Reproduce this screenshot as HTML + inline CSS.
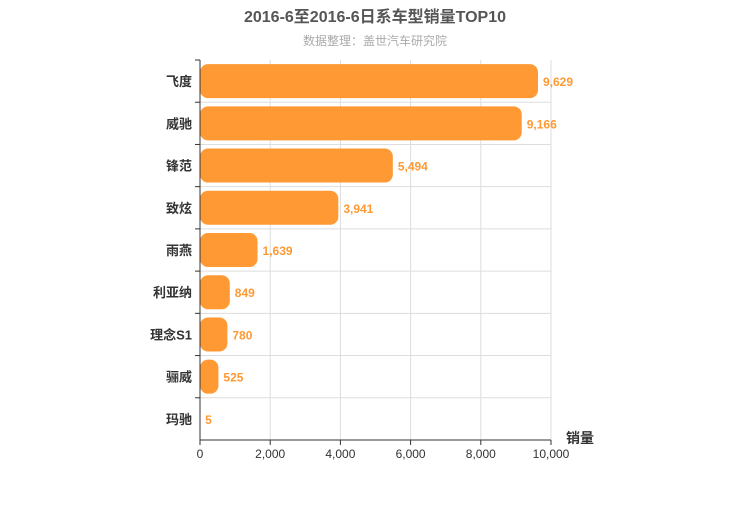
<!DOCTYPE html>
<html><head><meta charset="utf-8"><style>
body{margin:0;background:#fff;}
svg text{font-family:"Liberation Sans","Noto Sans CJK SC",sans-serif;}
</style></head><body>
<svg id="c" width="750" height="500">
<text x="375" y="22" text-anchor="middle" font-size="16" font-weight="bold" fill="#555">2016-6至2016-6日系车型销量TOP10</text>
<text x="375" y="45" text-anchor="middle" font-size="12" fill="#aaa">数据整理：盖世汽车研究院</text>
<text x="580" y="443" text-anchor="middle" font-size="14" font-weight="bold" fill="#333">销量</text>
<g id="g"></g>
</svg>
<script>
const categories=["飞度","威驰","锋范","致炫","雨燕","利亚纳","理念S1","骊威","玛驰"];
const values=[9629,9166,5494,3941,1639,849,780,525,5];
const ticks=[0,2000,4000,6000,8000,10000];
const tickLabels=["0","2,000","4,000","6,000","8,000","10,000"];
const NS="http://www.w3.org/2000/svg";
const g=document.getElementById('g');
const x0=200,x1=551,yTop=60,yBot=440,max=10000;
const rh=(yBot-yTop)/categories.length;
const xs=v=>x0+(x1-x0)*v/max;
function mk(t,a){const e=document.createElementNS(NS,t);for(const k in a)e.setAttribute(k,a[k]);g.appendChild(e);return e;}
ticks.forEach((t,i)=>{
 const l=mk('line',{x1:xs(t),x2:xs(t),y1:yTop,y2:yBot,stroke:'#ddd'});
 
 
 const tk=mk('line',{x1:xs(t),x2:xs(t),y1:yBot,y2:yBot+5,stroke:'#333'});
 
 
 const tx=mk('text',{x:xs(t),y:yBot+18,'text-anchor':'middle','font-size':12,fill:'#333'});
 tx.textContent=tickLabels[i];
 
 
});
categories.forEach((c,i)=>{
 const yb=yTop+rh*(i+1);
 if(i<categories.length-1){const l=mk('line',{x1:x0,x2:x1,y1:yb,y2:yb,stroke:'#ddd'});
 
 }
 const yc=yTop+rh*(i+0.5);
 const tk=mk('line',{x1:x0-5,x2:x0,y1:yTop+rh*i,y2:yTop+rh*i,stroke:'#333'});
 
 
 const r=mk('rect',{x:x0,y:yc-17,width:Math.max(xs(values[i])-x0,0.5),height:34,rx:8,ry:8,fill:'#ff9933'});
 
 
 const lb=mk('text',{x:x0-8,y:yc+5,'text-anchor':'end','font-size':13,'font-weight':'bold',fill:'#333'});
 lb.textContent=c;
 
 
 const vl=mk('text',{x:xs(values[i])+5,y:yc+5,'font-size':12,'font-weight':'bold',fill:'#ff9933'});
 vl.textContent=values[i].toLocaleString('en-US');
 
 
});
const ax=mk('line',{x1:x0,x2:x0,y1:yTop,y2:yBot,stroke:'#333'});


const bx=mk('line',{x1:x0,x2:x1,y1:yBot,y2:yBot,stroke:'#333'});


</script>
</body></html>
